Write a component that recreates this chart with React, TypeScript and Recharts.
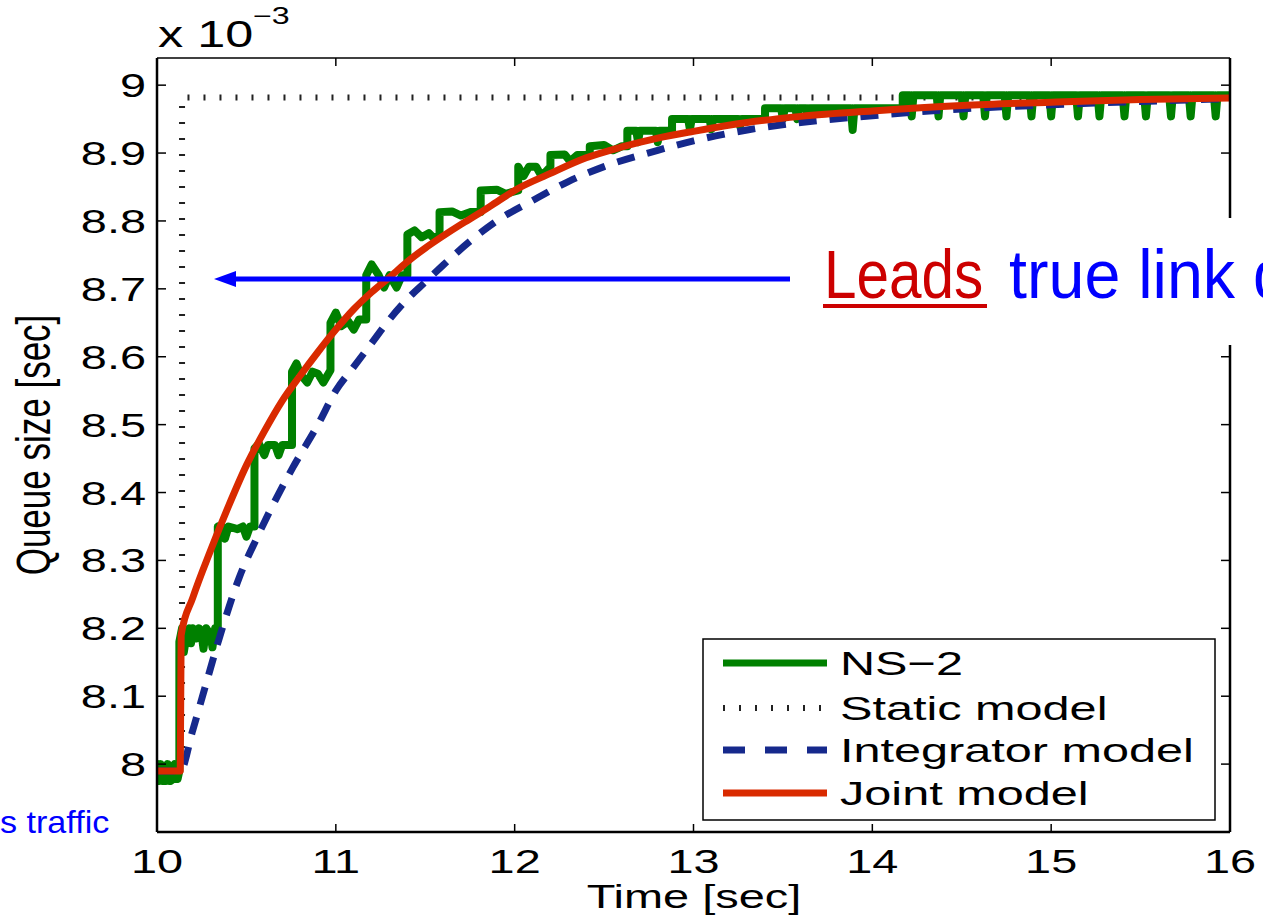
import React from 'react';
import { LineChart, Line, XAxis, YAxis } from 'recharts';

// axis ticks
const timeTicks = [10, 11, 12, 13, 14, 15, 16];
const queueTicks = [8, 8.1, 8.2, 8.3, 8.4, 8.5, 8.6, 8.7, 8.8, 8.9, 9];

// [time sec, queue size x1e-3 sec]
const staticModel = [
  [10.0, 7.99], [10.14, 7.99], [10.14, 8.982], [16.0, 8.982],
];

const integratorModel = [
  [10.0, 7.99], [10.13, 7.99], [10.2, 8.05], [10.26, 8.105], [10.35, 8.187],
  [10.46, 8.275], [10.56, 8.334], [10.67, 8.393], [10.76, 8.437], [10.9, 8.5],
  [11.0, 8.55], [11.1, 8.585], [11.2, 8.62], [11.3, 8.655], [11.4, 8.685],
  [11.5, 8.71], [11.6, 8.735], [11.75, 8.77], [11.9, 8.8], [12.1, 8.83],
  [12.3, 8.858], [12.5, 8.88], [12.8, 8.904], [13.0, 8.918], [13.3, 8.934],
  [13.6, 8.945], [14.0, 8.955], [14.5, 8.965], [15.0, 8.971], [15.5, 8.976],
  [16.0, 8.98],
];

const jointModel = [
  [10.0, 7.99], [10.13, 7.99], [10.135, 8.19], [10.2, 8.245], [10.3, 8.315],
  [10.4, 8.38], [10.5, 8.44], [10.6, 8.49], [10.7, 8.535], [10.8, 8.572],
  [10.9, 8.607], [11.0, 8.64], [11.1, 8.67], [11.2, 8.695], [11.3, 8.717],
  [11.4, 8.74], [11.5, 8.76], [11.6, 8.778], [11.7, 8.795], [11.8, 8.811],
  [11.9, 8.828], [12.0, 8.845], [12.2, 8.87], [12.4, 8.893], [12.6, 8.909],
  [12.8, 8.922], [13.0, 8.932], [13.3, 8.945], [13.6, 8.954], [14.0, 8.962],
  [14.5, 8.97], [15.0, 8.975], [15.5, 8.979], [16.0, 8.981],
];

const ns2 = [
  [10.0, 8.0], [10.01, 7.975], [10.02, 8.0], [10.035, 7.975], [10.05, 7.975],
  [10.06, 8.0], [10.075, 7.975], [10.09, 7.978], [10.1, 8.0], [10.115, 7.978],
  [10.125, 7.99],
  [10.125, 8.18], [10.14, 8.2], [10.15, 8.165], [10.165, 8.19], [10.18, 8.2],
  [10.19, 8.178], [10.2, 8.2], [10.22, 8.185], [10.235, 8.2], [10.25, 8.19],
  [10.26, 8.17], [10.275, 8.2], [10.3, 8.19], [10.31, 8.172], [10.325, 8.2],
  [10.34, 8.2],
  [10.34, 8.35], [10.36, 8.352], [10.38, 8.332], [10.4, 8.35], [10.45, 8.346],
  [10.48, 8.35], [10.5, 8.335], [10.52, 8.35], [10.545, 8.35],
  [10.545, 8.465], [10.57, 8.472], [10.6, 8.455], [10.62, 8.47], [10.66, 8.47],
  [10.68, 8.455], [10.7, 8.47], [10.755, 8.47],
  [10.755, 8.578], [10.78, 8.59], [10.8, 8.575], [10.84, 8.562], [10.87, 8.578],
  [10.9, 8.575], [10.93, 8.562], [10.97, 8.58],
  [10.97, 8.65], [11.0, 8.665], [11.03, 8.645], [11.07, 8.652], [11.1, 8.64],
  [11.13, 8.655], [11.17, 8.655],
  [11.17, 8.72], [11.2, 8.736], [11.24, 8.72], [11.27, 8.702], [11.3, 8.72],
  [11.34, 8.702], [11.37, 8.72], [11.4, 8.72],
  [11.4, 8.78], [11.44, 8.786], [11.48, 8.776], [11.52, 8.782], [11.55, 8.774],
  [11.58, 8.78],
  [11.58, 8.813], [11.65, 8.814], [11.7, 8.808], [11.75, 8.813], [11.81, 8.813],
  [11.81, 8.845], [11.9, 8.846], [11.95, 8.84], [12.02, 8.845],
  [12.02, 8.88], [12.05, 8.866], [12.08, 8.88], [12.12, 8.88], [12.15, 8.866],
  [12.2, 8.88],
  [12.2, 8.897], [12.28, 8.898], [12.31, 8.888], [12.35, 8.897], [12.42, 8.897],
  [12.42, 8.91], [12.5, 8.912], [12.55, 8.904], [12.6, 8.91], [12.63, 8.91],
  [12.63, 8.933], [12.68, 8.933], [12.69, 8.916], [12.7, 8.933], [12.79, 8.933],
  [12.8, 8.916], [12.81, 8.933], [12.88, 8.933],
  [12.88, 8.95], [12.97, 8.95], [12.98, 8.935], [12.99, 8.95], [13.09, 8.95],
  [13.1, 8.935], [13.11, 8.95], [13.25, 8.95], [13.26, 8.94], [13.27, 8.95],
  [13.4, 8.95],
  [13.4, 8.966], [13.49, 8.966], [13.5, 8.95], [13.51, 8.966], [13.57, 8.966],
  [13.58, 8.95], [13.59, 8.966], [13.63, 8.966], [13.64, 8.95], [13.65, 8.966],
  [13.88, 8.966], [13.89, 8.934], [13.9, 8.966], [14.17, 8.966],
  [14.17, 8.985], [14.21, 8.985], [14.22, 8.954], [14.23, 8.985],
  [14.36, 8.985], [14.37, 8.954], [14.38, 8.985],
  [14.5, 8.985], [14.51, 8.954], [14.52, 8.985],
  [14.62, 8.985], [14.63, 8.954], [14.64, 8.985],
  [14.74, 8.985], [14.75, 8.954], [14.76, 8.985],
  [14.88, 8.985], [14.89, 8.954], [14.9, 8.985],
  [14.99, 8.985], [15.0, 8.954], [15.01, 8.985],
  [15.14, 8.985], [15.15, 8.954], [15.16, 8.985],
  [15.26, 8.985], [15.27, 8.954], [15.28, 8.985],
  [15.4, 8.985], [15.41, 8.954], [15.42, 8.985],
  [15.52, 8.985], [15.53, 8.954], [15.54, 8.985],
  [15.66, 8.985], [15.67, 8.954], [15.68, 8.985],
  [15.77, 8.985], [15.78, 8.954], [15.79, 8.985],
  [15.91, 8.985], [15.92, 8.954], [15.93, 8.985],
  [16.0, 8.985],
];

const W = 1263;
const H = 917;
const LEFT = 157;
const RIGHT = 1230;
const TOP = 58;
const BOTTOM = 832;

const FONT = '"Liberation Sans", Arial, Helvetica, sans-serif';
const GREEN = '#008000';
const BLUE = '#16298c';
const RED = '#d92a00';

const rows = (pts: number[][]) => pts.map(([t, q]) => ({ t, q }));

function fmt(v: number) {
  return Math.abs(v - Math.round(v)) < 1e-6 ? String(Math.round(v)) : v.toFixed(1);
}

function LeftTick(props: any) {
  const { y, payload } = props;
  return (
    <g>
      <line x1={LEFT} x2={LEFT + 9} y1={y} y2={y} stroke="#000" strokeWidth={1.5} />
      <text
        transform={`translate(${LEFT - 11},${y + 12}) scale(1.42,1)`}
        textAnchor="end"
        fontFamily={FONT}
        fontSize={33}
        fill="#000"
      >
        {fmt(payload.value)}
      </text>
    </g>
  );
}

function RightTick(props: any) {
  const { y } = props;
  return <line x1={RIGHT - 9} x2={RIGHT} y1={y} y2={y} stroke="#000" strokeWidth={1.5} />;
}

function BottomTick(props: any) {
  const { x, payload } = props;
  return (
    <g>
      <line x1={x} x2={x} y1={BOTTOM - 8} y2={BOTTOM} stroke="#000" strokeWidth={1.5} />
      <text
        transform={`translate(${x},873) scale(1.42,1)`}
        textAnchor="middle"
        fontFamily={FONT}
        fontSize={33}
        fill="#000"
      >
        {payload.value}
      </text>
    </g>
  );
}

function TopTick(props: any) {
  const { x } = props;
  return <line x1={x} x2={x} y1={TOP} y2={TOP + 8} stroke="#000" strokeWidth={1.5} />;
}

const legendItems = [
  { name: 'NS\u22122', color: GREEN, dash: undefined, width: 7 },
  { name: 'Static model', color: '#222', dash: '2 14', width: 6 },
  { name: 'Integrator model', color: BLUE, dash: '22 20', width: 7 },
  { name: 'Joint model', color: RED, dash: undefined, width: 7 },
];

function Overlay() {
  const legendY = [663, 708, 750, 793];
  return (
    <svg
      width={W}
      height={H}
      style={{ position: 'absolute', left: 0, top: 0, pointerEvents: 'none', overflow: 'hidden' }}
    >
      {/* x 10^-3 multiplier */}
      <text transform="translate(158,47) scale(1.4,1)" fontFamily={FONT} fontSize={36} fill="#000">
        x 10
      </text>
      <text transform="translate(253,24) scale(1.4,1)" fontFamily={FONT} fontSize={23} fill="#000">
        {'\u22123'}
      </text>

      {/* axis titles */}
      <text
        transform="translate(50,445) rotate(-90) scale(1,1.36)"
        textAnchor="middle"
        fontFamily={FONT}
        fontSize={35}
        fill="#000"
      >
        Queue size [sec]
      </text>
      <text
        transform="translate(694,908) scale(1.38,1)"
        textAnchor="middle"
        fontFamily={FONT}
        fontSize={34}
        fill="#000"
      >
        Time [sec]
      </text>

      {/* legend */}
      <rect x={703} y={639} width={512} height={181} fill="#fff" stroke="#000" strokeWidth={1.5} />
      {legendItems.map((it, i) => (
        <g key={it.name}>
          <line
            x1={723}
            x2={827}
            y1={legendY[i]}
            y2={legendY[i]}
            stroke={it.color}
            strokeWidth={it.width}
            strokeDasharray={it.dash}
          />
          <text
            transform={`translate(840,${legendY[i] + 12}) scale(1.43,1)`}
            fontFamily={FONT}
            fontSize={34}
            fill="#000"
          >
            {it.name}
          </text>
        </g>
      ))}

      {/* annotation */}
      <rect x={800} y={218} width={463} height={127} fill="#fff" />
      <line x1={232} x2={790} y1={279} y2={279} stroke="#0000ff" strokeWidth={5} />
      <polygon points="214,279 236,271 236,287" fill="#0000ff" />
      <text transform="translate(824,298) scale(0.86,1)" fontFamily={FONT} fontSize={68} fill="#cc0000">
        Leads
      </text>
      <rect x={823} y={304} width={164} height={4} fill="#cc0000" />
      <text transform="translate(1009,298) scale(0.95,1)" fontFamily={FONT} fontSize={68} fill="#0000ff">
        true link d
      </text>
      <text transform="translate(0,833) scale(1.1,1)" fontFamily={FONT} fontSize={31} fill="#0000ff">
        s traffic
      </text>
    </svg>
  );
}

export default function App() {
  return (
    <div style={{ position: 'relative', width: W, height: H, background: '#fff', overflow: 'hidden' }}>
      <style>{'body{margin:0;background:#fff;}'}</style>
      <LineChart
        width={W}
        height={H}
        margin={{ top: TOP - 1, right: W - RIGHT - 1, bottom: H - BOTTOM - 1, left: LEFT - 1 }}
      >
        <XAxis
          dataKey="t"
          type="number"
          domain={[10, 16]}
          ticks={timeTicks}
          interval={0}
          allowDataOverflow
          height={1}
          tickLine={false}
          tickSize={0}
          tick={BottomTick}
          axisLine={{ stroke: '#000', strokeWidth: 2.5 }}
        />
        <XAxis
          xAxisId="top"
          orientation="top"
          dataKey="t"
          type="number"
          domain={[10, 16]}
          ticks={timeTicks}
          interval={0}
          allowDataOverflow
          height={1}
          tickLine={false}
          tickSize={0}
          tick={TopTick}
          axisLine={{ stroke: '#000', strokeWidth: 1.5 }}
        />
        <YAxis
          type="number"
          domain={[7.9, 9.04]}
          ticks={queueTicks}
          interval={0}
          allowDataOverflow
          width={1}
          tickLine={false}
          tickSize={0}
          tick={LeftTick}
          axisLine={{ stroke: '#000', strokeWidth: 2.5 }}
        />
        <YAxis
          yAxisId="right"
          orientation="right"
          type="number"
          domain={[7.9, 9.04]}
          ticks={queueTicks}
          interval={0}
          allowDataOverflow
          width={1}
          tickLine={false}
          tickSize={0}
          tick={RightTick}
          axisLine={{ stroke: '#000', strokeWidth: 2.5 }}
        />
        <Line
          data={rows(staticModel)}
          dataKey="q"
          type="linear"
          stroke="#222"
          strokeWidth={6}
          strokeDasharray="2 14"
          dot={false}
          isAnimationActive={false}
        />
        <Line
          data={rows(ns2)}
          dataKey="q"
          type="linear"
          stroke={GREEN}
          strokeWidth={8}
          strokeLinejoin="round"
          strokeLinecap="round"
          dot={false}
          isAnimationActive={false}
        />
        <Line
          data={rows(integratorModel)}
          dataKey="q"
          type="monotone"
          stroke={BLUE}
          strokeWidth={7}
          strokeDasharray="18 13"
          dot={false}
          isAnimationActive={false}
        />
        <Line
          data={rows(jointModel)}
          dataKey="q"
          type="monotone"
          stroke={RED}
          strokeWidth={7}
          strokeLinejoin="round"
          dot={false}
          isAnimationActive={false}
        />
      </LineChart>
      <Overlay />
    </div>
  );
}
